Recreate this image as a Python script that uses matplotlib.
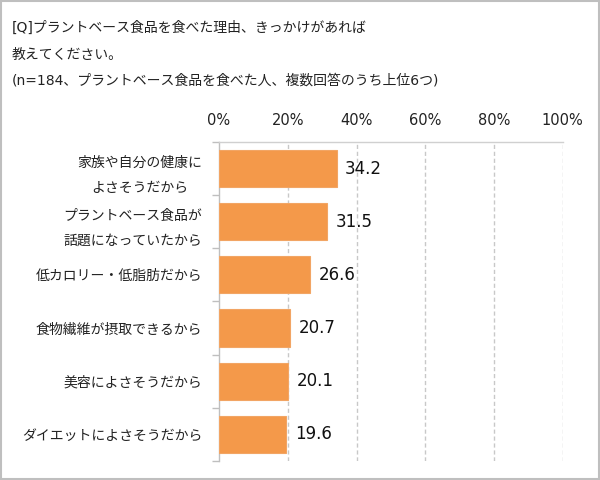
import matplotlib
matplotlib.use("Agg")
import matplotlib.pyplot as plt
from matplotlib.patches import Rectangle

plt.rcParams['font.family'] = ['DejaVu Sans', 'Noto Sans CJK JP']

categories = ["家族や自分の健康に\nよさそうだから",
              "プラントベース食品が\n話題になっていたから",
              "低カロリー・低脂肪だから",
              "食物繊維が摂取できるから",
              "美容によさそうだから",
              "ダイエットによさそうだから"]
values = [34.2, 31.5, 26.6, 20.7, 20.1, 19.6]
xticks = [0, 20, 40, 60, 80, 100]
xtick_labels = ["0%", "20%", "40%", "60%", "80%", "100%"]
title_lines = ["[Q]プラントベース食品を食べた理由、きっかけがあれば",
               "教えてください。",
               "(n=184、プラントベース食品を食べた人、複数回答のうち上位6つ)"]

fig = plt.figure(figsize=(6, 4.8), dpi=100)
fig.patch.set_facecolor('white')
fig.patches.append(Rectangle((0.002, 0.002), 0.996, 0.996, transform=fig.transFigure,
                             fill=False, edgecolor='#BFBFBF', linewidth=1.5))

ax = fig.add_axes([0.365, 0.040, 0.573, 0.664])
n = len(categories)
pos = list(range(n))
ax.barh(pos, values, height=0.7, color='#F4994A', edgecolor='#F2A564', linewidth=0.8, zorder=3)
ax.set_ylim(n - 0.5, -0.5)
ax.set_xlim(0, 100)

ax.set_xticks(xticks)
ax.set_xticklabels(xtick_labels, fontsize=10.5, color='#222222')
ax.xaxis.tick_top()
ax.tick_params(axis='x', length=0, pad=10)

ax.set_yticks(pos)
ax.set_yticklabels(categories, fontsize=10, color='#222222', multialignment='center',
                   linespacing=1.95)
ax.tick_params(axis='y', which='major', length=0, pad=12)
ax.set_yticks([i + 0.5 for i in range(-1, n)], minor=True)
ax.tick_params(axis='y', which='minor', length=5, color='#BFBFBF', width=1, direction='out')

for x in xticks[1:]:
    ax.axvline(x, color='#C8C8C8', linestyle=(0, (3, 2)), linewidth=1, zorder=1)

for s in ['bottom', 'right']:
    ax.spines[s].set_visible(False)
ax.spines['left'].set_color('#BFBFBF')
ax.spines['top'].set_color('#D0D0D0')
ax.spines['left'].set_linewidth(1)
ax.spines['top'].set_linewidth(1)

for p, v in zip(pos, values):
    ax.annotate(f"{v:.1f}", xy=(v, p), xytext=(6, 0), textcoords='offset points',
                va='center', ha='left', fontsize=12, color='#111111')

ys = [0.942, 0.886, 0.832]
for y, t in zip(ys, title_lines):
    fig.text(0.02, y, t, fontsize=10, va='center', ha='left', color='#222222')

fig.savefig("out.png", dpi=100)
